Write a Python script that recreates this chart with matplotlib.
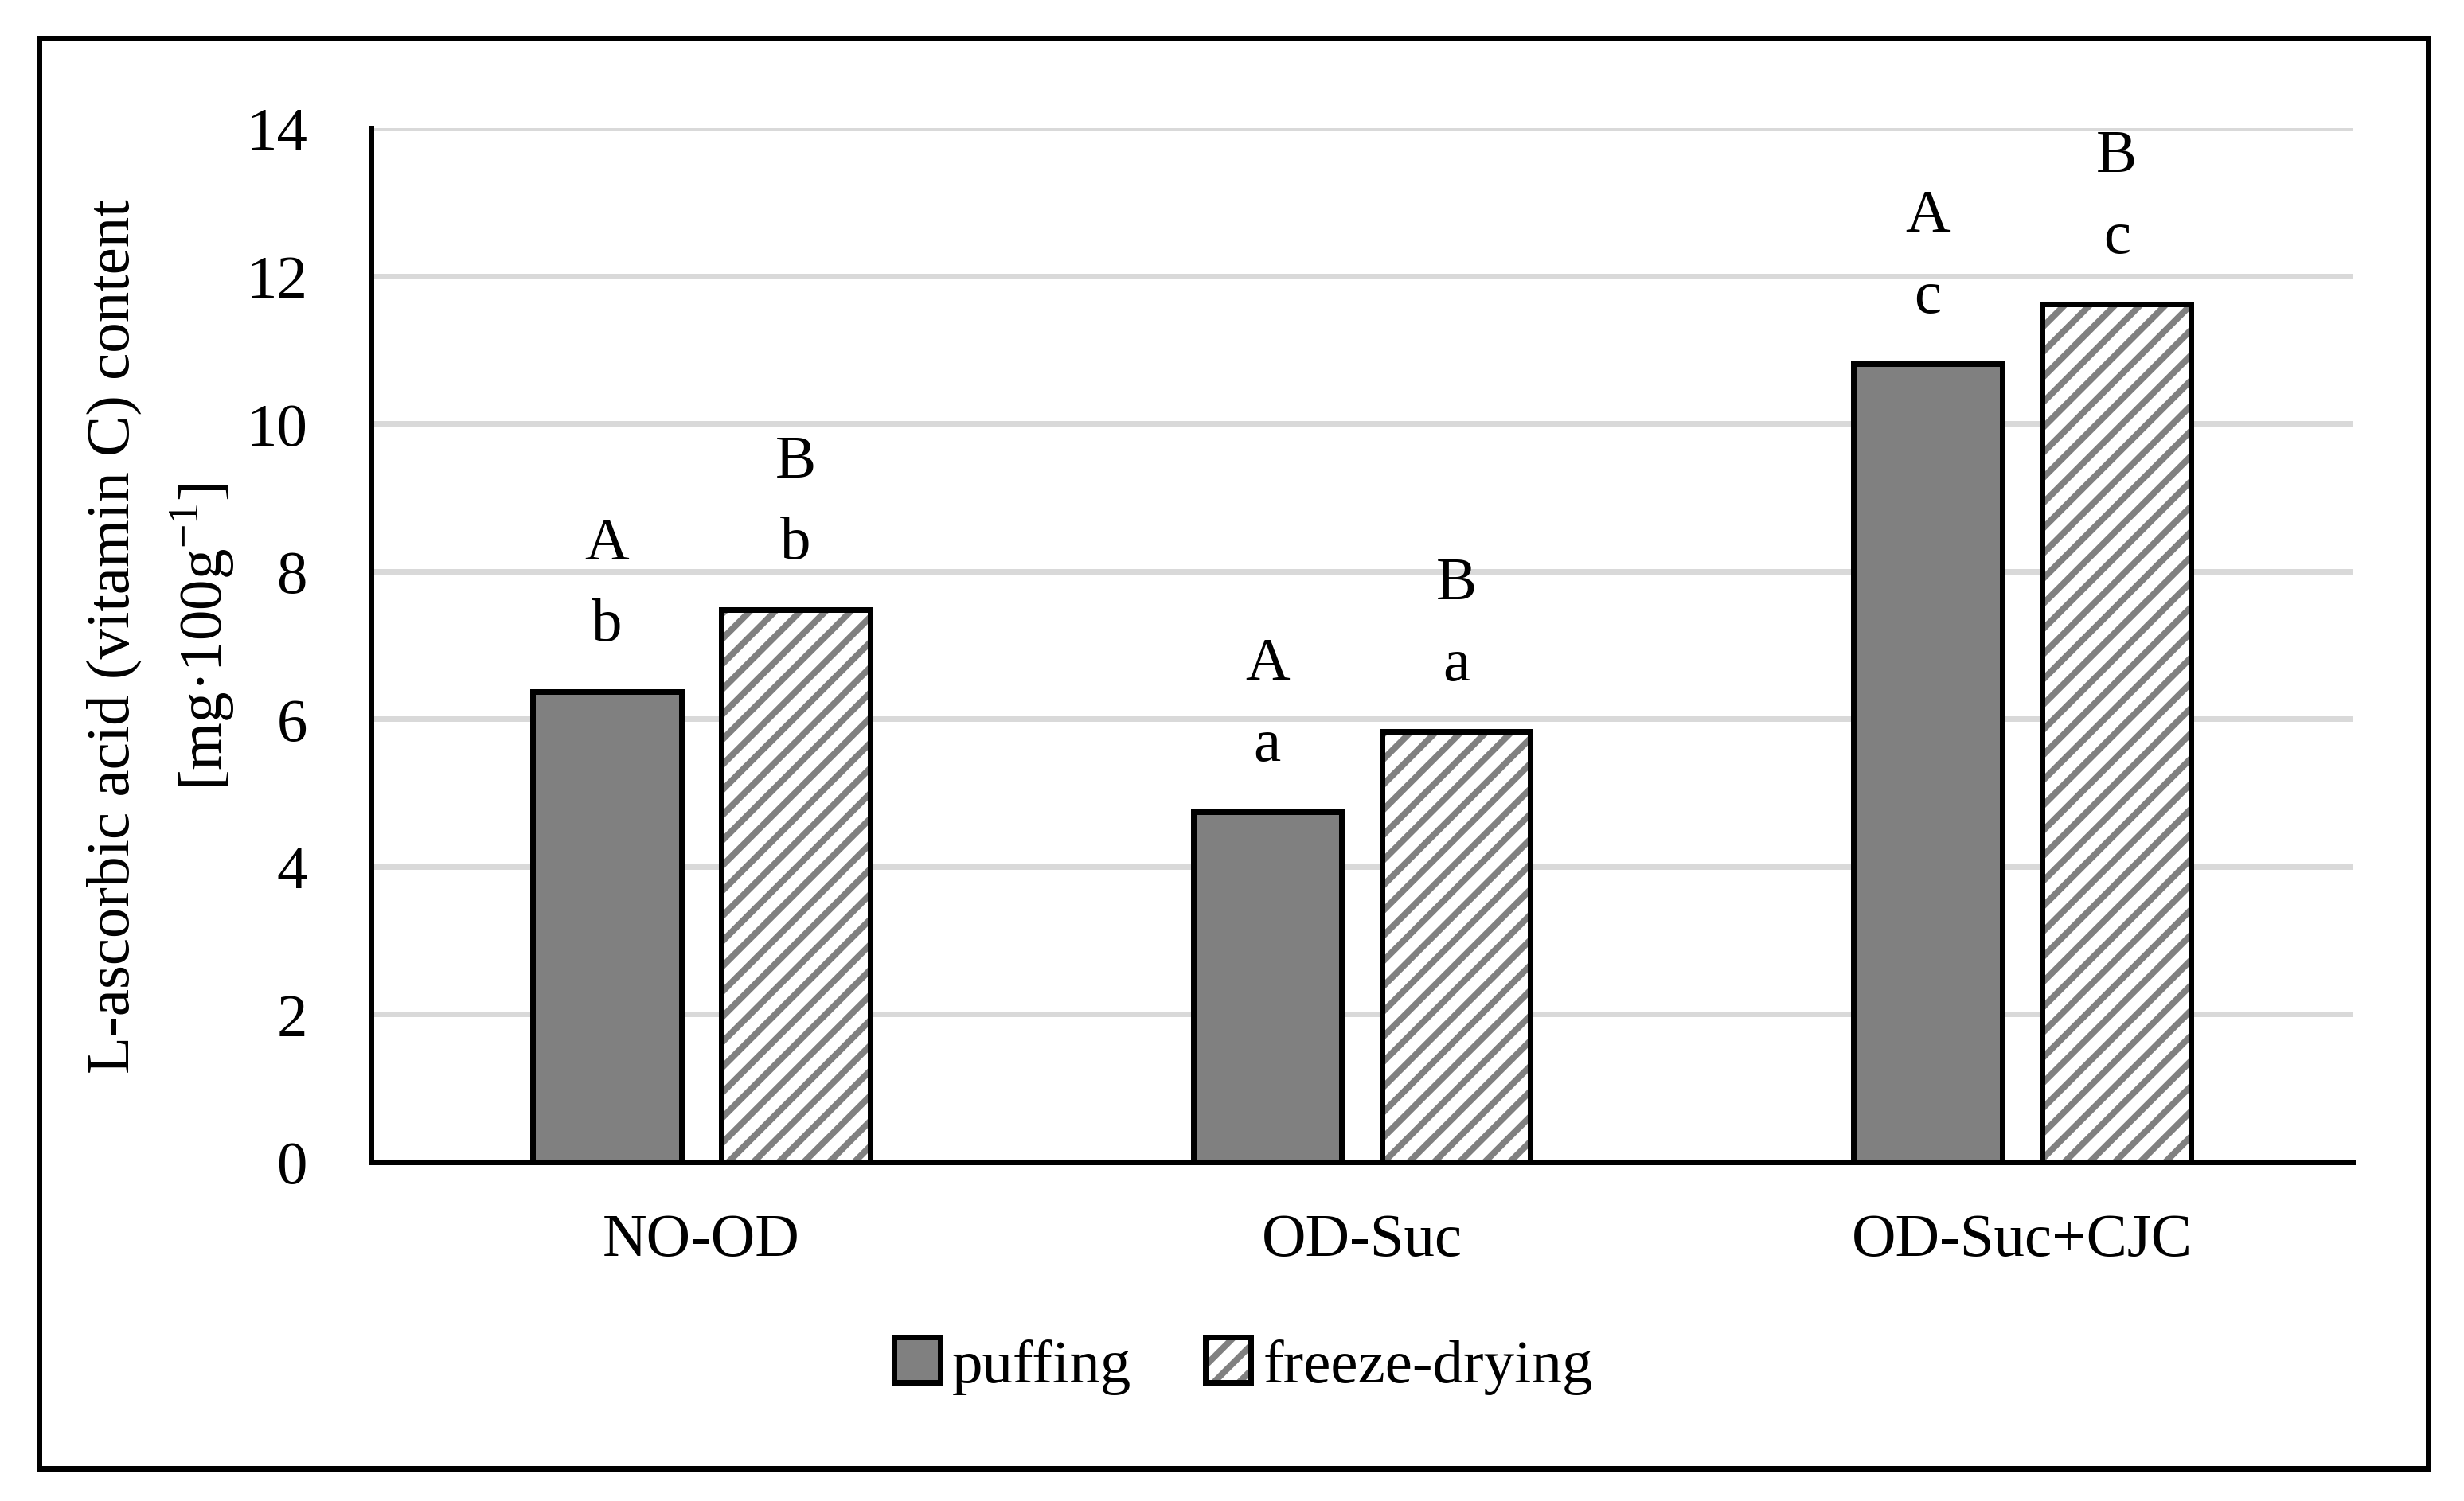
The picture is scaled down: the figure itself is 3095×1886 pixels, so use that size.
"""L-ascorbic acid content bar chart: puffing vs freeze-drying."""

import matplotlib
matplotlib.use("Agg")
import matplotlib.pyplot as plt
import numpy as np
from matplotlib.patches import Rectangle

categories = ["NO-OD", "OD-Suc", "OD-Suc+CJC"]
puffing = [6.37, 4.74, 10.81]
freeze_drying = [7.48, 5.83, 11.62]
puffing_upper = ["A", "A", "A"]
puffing_lower = ["b", "a", "c"]
freeze_upper = ["B", "B", "B"]
freeze_lower = ["b", "a", "c"]
yticks = [0, 2, 4, 6, 8, 10, 12, 14]

DPI = 190
PX = 72 / DPI  # points per pixel

plt.rcParams["font.family"] = ["Liberation Serif", "DejaVu Serif"]
plt.rcParams["mathtext.fontset"] = "custom"
plt.rcParams["mathtext.rm"] = "Liberation Serif"
plt.rcParams["hatch.linewidth"] = 8 * PX
FS = 77 * PX

fig = plt.figure(figsize=(3095 / DPI, 1887 / DPI), dpi=DPI)
ax = fig.add_axes([466 / 3095, 1 - 1461 / 1887, (2955 - 466) / 3095, (1461 - 162) / 1887])

x = np.arange(len(categories))
width = 0.225
off = 0.143
lw = 7 * PX

# puffing: solid grey
b1 = ax.bar(x - off, puffing, width, color="#808080", edgecolor="black", linewidth=lw, zorder=3)
# freeze-drying: grey hatch layer + black outline layer
b2h = ax.bar(x + off, freeze_drying, width, color="white", edgecolor="#808080", hatch="//",
             linewidth=0, zorder=3)
b2o = ax.bar(x + off, freeze_drying, width, fill=False, edgecolor="black", linewidth=lw, zorder=4)

for xi, v, up, lo in zip(x - off, puffing, puffing_upper, puffing_lower):
    ax.text(xi, v + 0.9, lo, ha="center", va="center", fontsize=FS)
    ax.text(xi, v + 2.0, up, ha="center", va="center", fontsize=FS)
for xi, v, up, lo in zip(x + off, freeze_drying, freeze_upper, freeze_lower):
    ax.text(xi, v + 0.9, lo, ha="center", va="center", fontsize=FS)
    ax.text(xi, v + 2.0, up, ha="center", va="center", fontsize=FS)

ax.set_xlim(-0.5, len(categories) - 0.5)
ax.set_ylim(0, 14)
ax.set_yticks(yticks)
ax.set_xticks(x)
ax.set_xticklabels(categories)
ax.tick_params(axis="y", length=0, pad=80 * PX, labelsize=FS)
ax.tick_params(axis="x", length=0, pad=64 * PX, labelsize=FS)
ax.yaxis.grid(True, color="#d9d9d9", linewidth=lw, zorder=0)
ax.set_axisbelow(True)
for side in ["top", "right"]:
    ax.spines[side].set_visible(False)
for side in ["left", "bottom"]:
    ax.spines[side].set_linewidth(lw)
    ax.spines[side].set_color("black")
    ax.spines[side].set_zorder(5)

fig.text(203 / 3095, 1 - 800 / 1887,
         "L-ascorbic acid (vitamin C) content\n[mg\u00b7100g$^{-1}$]",
         rotation=90, ha="center", va="center", multialignment="center",
         fontsize=FS, linespacing=1.5)

ax.legend([b1, (b2h, b2o)], ["puffing", "freeze-drying"], loc="center",
          bbox_to_anchor=(1562 / 3095, 1 - 1717 / 1887), bbox_transform=fig.transFigure,
          ncol=2, frameon=False, fontsize=FS, handlelength=0.75, handleheight=0.75,
          handletextpad=0.2, columnspacing=1.2)

fig.add_artist(Rectangle((49 / 3095, 1 - 1846 / 1887), (3050 - 49) / 3095, (1846 - 49) / 1887,
                         transform=fig.transFigure, fill=False, edgecolor="black", linewidth=lw))

fig.savefig("out.png", dpi=DPI)
